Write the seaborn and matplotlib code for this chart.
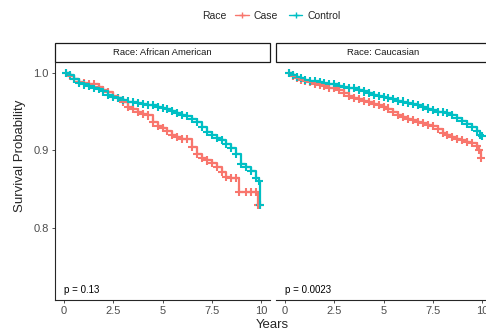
import pandas as pd
import matplotlib.pyplot as plt
from matplotlib.lines import Line2D
from matplotlib.patches import Rectangle
import seaborn as sns

# survival curves (years, survival probability)
aa_control_t = [0.1, 0.3, 0.5, 0.75, 1.0, 1.25, 1.5, 1.75, 2.0, 2.25, 2.5, 2.75, 3.0, 3.25, 3.5,
                3.75, 4.0, 4.25, 4.5, 4.75, 5.0, 5.25, 5.5, 5.75, 6.0, 6.25, 6.5, 6.75, 7.0, 7.25,
                7.5, 7.75, 8.0, 8.25, 8.5, 8.75, 9.0, 9.25, 9.5, 9.75, 9.9, 9.95]
aa_control_s = [1.000, 0.997, 0.992, 0.987, 0.985, 0.983, 0.981, 0.979, 0.976, 0.972, 0.969, 0.967,
                0.965, 0.963, 0.962, 0.961, 0.960, 0.959, 0.958, 0.956, 0.955, 0.953, 0.951, 0.948,
                0.946, 0.944, 0.941, 0.937, 0.930, 0.924, 0.920, 0.916, 0.913, 0.908, 0.903, 0.895,
                0.882, 0.878, 0.873, 0.864, 0.860, 0.830]

aa_case_t = [0.1, 0.3, 0.5, 0.75, 1.0, 1.25, 1.5, 1.75, 2.0, 2.25, 2.5, 2.75, 3.0, 3.25, 3.5,
             3.75, 4.0, 4.25, 4.5, 4.75, 5.0, 5.25, 5.5, 5.75, 6.0, 6.25, 6.5, 6.75, 7.0, 7.25,
             7.5, 7.75, 8.0, 8.25, 8.5, 8.75, 8.9, 9.25, 9.5, 9.75, 9.85, 9.95]
aa_case_s = [1.000, 0.996, 0.992, 0.988, 0.987, 0.986, 0.985, 0.982, 0.978, 0.975, 0.970, 0.967,
             0.962, 0.956, 0.953, 0.949, 0.947, 0.945, 0.936, 0.932, 0.929, 0.925, 0.920, 0.917,
             0.915, 0.915, 0.905, 0.895, 0.890, 0.887, 0.884, 0.878, 0.872, 0.866, 0.864, 0.864,
             0.846, 0.846, 0.846, 0.846, 0.829, 0.829]

ca_control_t = [0.2, 0.4, 0.6, 0.8, 1.0, 1.25, 1.5, 1.75, 2.0, 2.25, 2.5, 2.75, 3.0, 3.25, 3.5,
                3.75, 4.0, 4.25, 4.5, 4.75, 5.0, 5.25, 5.5, 5.75, 6.0, 6.25, 6.5, 6.75, 7.0, 7.25,
                7.5, 7.75, 8.0, 8.25, 8.5, 8.75, 9.0, 9.25, 9.5, 9.75, 9.9, 9.98]
ca_control_s = [1.000, 0.997, 0.995, 0.993, 0.991, 0.990, 0.989, 0.988, 0.987, 0.986, 0.985, 0.983,
                0.982, 0.981, 0.980, 0.978, 0.976, 0.974, 0.972, 0.970, 0.969, 0.967, 0.966, 0.964,
                0.963, 0.961, 0.960, 0.958, 0.956, 0.954, 0.952, 0.950, 0.949, 0.948, 0.946, 0.942,
                0.938, 0.934, 0.930, 0.925, 0.920, 0.918]

ca_case_t = [0.2, 0.4, 0.6, 0.8, 1.0, 1.25, 1.5, 1.75, 2.0, 2.25, 2.5, 2.75, 3.0, 3.25, 3.5,
             3.75, 4.0, 4.25, 4.5, 4.75, 5.0, 5.25, 5.5, 5.75, 6.0, 6.25, 6.5, 6.75, 7.0, 7.25,
             7.5, 7.75, 8.0, 8.25, 8.5, 8.75, 9.0, 9.25, 9.5, 9.75, 9.85, 9.95]
ca_case_s = [1.000, 0.996, 0.993, 0.991, 0.989, 0.988, 0.986, 0.984, 0.983, 0.981, 0.980, 0.978,
             0.974, 0.970, 0.968, 0.966, 0.964, 0.962, 0.960, 0.958, 0.956, 0.954, 0.950, 0.946,
             0.943, 0.941, 0.939, 0.937, 0.935, 0.933, 0.931, 0.927, 0.923, 0.920, 0.917, 0.915,
             0.913, 0.911, 0.909, 0.906, 0.900, 0.890]

panels = ["African American", "Caucasian"]
p_values = ["p = 0.13", "p = 0.0023"]
groups = ["Case", "Control"]
x_ticks = [0, 2.5, 5, 7.5, 10]
x_tick_labels = ["0", "2.5", "5", "7.5", "10"]
y_ticks = [0.8, 0.9, 1.0]

palette = {"Case": "#F8766D", "Control": "#00BFC4"}

rows = []
for race, grp, ts, ss in [("African American", "Case", aa_case_t, aa_case_s),
                          ("African American", "Control", aa_control_t, aa_control_s),
                          ("Caucasian", "Case", ca_case_t, ca_case_s),
                          ("Caucasian", "Control", ca_control_t, ca_control_s)]:
    for t, s in zip(ts, ss):
        rows.append({"Race": race, "Group": grp, "Years": t, "Survival": s})
df = pd.DataFrame(rows)

sns.set_theme(style="ticks")
plt.rcParams['font.family'] = ['Liberation Sans', 'DejaVu Sans']

fig = plt.figure(figsize=(4.86, 3.31), dpi=100)
W, H = 486, 331
ax_l = fig.add_axes([55 / W, 31 / H, 215 / W, 238 / H])
ax_r = fig.add_axes([276 / W, 31 / H, 215 / W, 238 / H])

for ax, race, ptxt in zip([ax_l, ax_r], panels, p_values):
    sub = df[df.Race == race]
    sns.lineplot(data=sub, x="Years", y="Survival", hue="Group", hue_order=groups,
                 palette=palette, estimator=None, drawstyle="steps-post",
                 linewidth=1.6, legend=False, ax=ax)
    sns.scatterplot(data=sub, x="Years", y="Survival", hue="Group", hue_order=groups,
                    palette=palette, marker="+", s=34, linewidth=1.5, legend=False, ax=ax)
    ax.set_xlim(-0.46, 10.46)
    ax.set_ylim(0.707, 1.014)
    ax.set_xticks(x_ticks)
    ax.set_xticklabels(x_tick_labels)
    ax.set_xlabel("")
    ax.set_ylabel("")
    ax.tick_params(axis="both", labelsize=8, colors="#333333", labelcolor="#4D4D4D",
                   length=2.5, width=0.6, pad=2)
    for sp in ["top", "right"]:
        ax.spines[sp].set_visible(False)
    ax.spines["bottom"].set_linewidth(0.8)
    ax.spines["left"].set_linewidth(0.8)
    ax.text(0, 0.72, ptxt, fontsize=7, color="black", ha="left", va="center")
    # facet strip
    ax.add_patch(Rectangle((0, 1.0), 1, 19 / 238, transform=ax.transAxes, clip_on=False,
                           facecolor="white", edgecolor="#1A1A1A", linewidth=0.9))
    ax.text(0.5, 1.0 + 9.5 / 238, "Race: " + race, transform=ax.transAxes,
            ha="center", va="center", fontsize=6.8, color="#1A1A1A")

ax_l.set_yticks(y_ticks)
ax_l.set_yticklabels(["0.8", "0.9", "1.0"])
ax_r.set_yticks([])
ax_r.spines["left"].set_visible(False)

fig.text(20 / W, 0.5 + 10 / H, "Survival Probability", rotation=90, ha="center", va="center",
         fontsize=9.5)
fig.text(272 / W, 1 - 325 / H, "Years", ha="center", va="center", fontsize=9.5)

# legend
fig.text(214 / W, 1 - 16 / H, "Race", ha="center", va="center", fontsize=7.5)
handles = [Line2D([], [], color=palette[g], marker="+", markersize=5, linewidth=1.0, label=g)
           for g in groups]
fig.legend(handles=handles, ncol=2, loc="center", bbox_to_anchor=(288 / W, 1 - 16 / H),
           frameon=False, fontsize=7.5, handlelength=1.3, handletextpad=0.5,
           columnspacing=1.0, borderpad=0)

fig.savefig("out.png", dpi=100)
